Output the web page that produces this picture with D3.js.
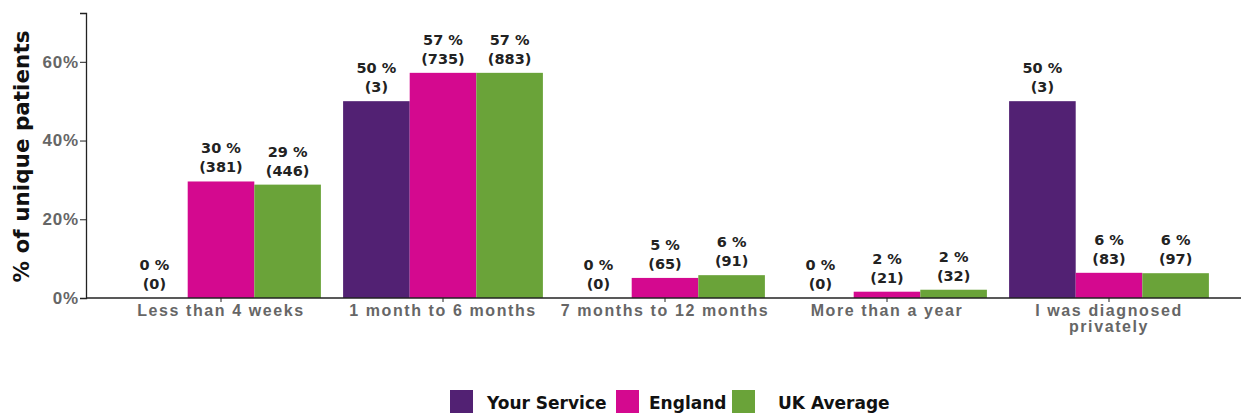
<!DOCTYPE html>
<html>
<head>
<meta charset="utf-8">
<script src="https://cdn.jsdelivr.net/npm/d3@7"></script>
<style>
  body { margin: 0; background: #fff; }
  svg { display: block; font-family: "DejaVu Sans", sans-serif; }
</style>
</head>
<body>
<svg width="1241" height="414"></svg>
<script>
const categories = [
  "Less than 4 weeks",
  "1 month to 6 months",
  "7 months to 12 months",
  "More than a year",
  "I was diagnosed privately"
];
const seriesNames = ["Your Service", "England", "UK Average"];
const seriesColors = ["#522173", "#d4098f", "#6aa339"];

// percent of unique patients, and patient counts
const yourService = [0, 50, 0, 0, 50];
const england = [29.6, 57.2, 5.1, 1.6, 6.4];
const ukAverage = [28.8, 57.2, 5.8, 2.1, 6.3];
const yourServiceN = [0, 3, 0, 0, 3];
const englandN = [381, 735, 65, 21, 83];
const ukAverageN = [446, 883, 91, 32, 97];

const yTicks = [0, 20, 40, 60];

const svg = d3.select('svg');
const margin = {left: 86, bottom: 298, top: 13};

const series = [
  {name: seriesNames[0], values: yourService, counts: yourServiceN},
  {name: seriesNames[1], values: england, counts: englandN},
  {name: seriesNames[2], values: ukAverage, counts: ukAverageN}
];

const x0 = d3.scaleBand()
  .domain(categories)
  .range([110, 1220])
  .paddingInner(0.1)
  .paddingOuter(0.05);

const x1 = d3.scaleBand()
  .domain(seriesNames)
  .range([0, x0.bandwidth()]);

const y = d3.scaleLinear()
  .domain([0, 72.4])
  .range([margin.bottom, margin.top]);

const color = d3.scaleOrdinal().domain(seriesNames).range(seriesColors);

// y axis
const yAxis = svg.append('g')
  .attr('transform', `translate(${margin.left},0)`)
  .call(d3.axisLeft(y).tickValues(yTicks).tickFormat(d => d + '%').tickSize(6).tickPadding(1));
yAxis.select('.domain').attr('stroke', '#222').attr('stroke-width', 1.3);
yAxis.selectAll('.tick line').attr('stroke', '#222');
yAxis.selectAll('.tick text')
  .attr('fill', '#666')
  .style('font-size', '17px')
  .style('font-weight', 700)
  .style('letter-spacing', '0.8px');

svg.append('text')
  .attr('transform', `translate(29,${(margin.bottom + margin.top) / 2 + 1}) rotate(-90)`)
  .attr('text-anchor', 'middle')
  .style('font-size', '21.5px')
  .style('font-weight', 700)
  .attr('fill', '#111')
  .text('% of unique patients');

// bars
const groups = svg.append('g').selectAll('g')
  .data(categories)
  .join('g')
  .attr('transform', d => `translate(${x0(d)},0)`);

groups.selectAll('rect')
  .data((d, i) => series.map(s => ({name: s.name, v: s.values[i], n: s.counts[i]})))
  .join('rect')
  .attr('x', d => x1(d.name))
  .attr('width', x1.bandwidth())
  .attr('y', d => y(d.v))
  .attr('height', d => y(0) - y(d.v))
  .attr('fill', d => color(d.name));

const labels = groups.selectAll('text.lbl')
  .data((d, i) => series.map(s => ({name: s.name, v: s.values[i], n: s.counts[i]})))
  .join('text')
  .attr('class', 'lbl')
  .attr('text-anchor', 'middle')
  .attr('fill', '#222')
  .style('font-size', '14.5px')
  .style('font-weight', 700);
labels.append('tspan')
  .attr('x', d => x1(d.name) + x1.bandwidth() / 2)
  .attr('y', d => y(d.v) - 28)
  .text(d => Math.round(d.v) + ' %');
labels.append('tspan')
  .attr('x', d => x1(d.name) + x1.bandwidth() / 2)
  .attr('y', d => y(d.v) - 9)
  .text(d => `(${d.n})`);

// x axis
const xAxis = svg.append('g')
  .attr('transform', `translate(0,${margin.bottom})`)
  .call(d3.axisBottom(x0).tickSize(4).tickPadding(3).tickSizeOuter(0));
xAxis.select('.domain')
  .attr('d', `M${margin.left},0H1241`)
  .attr('stroke', '#222').attr('stroke-width', 1.3);
xAxis.selectAll('.tick line').attr('stroke', '#222');
xAxis.selectAll('.tick text')
  .attr('fill', '#666')
  .style('font-size', '16px')
  .style('font-weight', 700)
  .style('letter-spacing', '1.6px')
  .each(function(d) {
    if (d === "I was diagnosed privately") {
      const t = d3.select(this).text(null);
      t.append('tspan').attr('x', 0).attr('dy', '0.71em').text('I was diagnosed');
      t.append('tspan').attr('x', 0).attr('dy', '0.95em').text('privately');
    }
  });

// legend
const legend = svg.append('g').attr('transform', 'translate(450,390)');
const legendX = [0, 166, 282];
const legendTextX = [37, 33, 46];
const item = legend.selectAll('g')
  .data(seriesNames)
  .join('g')
  .attr('transform', (d, i) => `translate(${legendX[i]},0)`);
item.append('rect')
  .attr('width', 23).attr('height', 23)
  .attr('fill', d => color(d));
item.append('text')
  .attr('x', (d, i) => legendTextX[i])
  .attr('y', 19)
  .attr('fill', '#111')
  .style('font-size', '17px')
  .style('font-weight', 700)
  .text(d => d);
</script>
</body>
</html>
